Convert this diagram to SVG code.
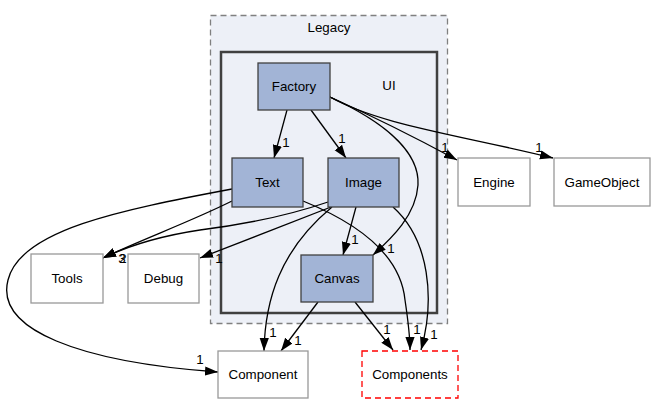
<svg xmlns="http://www.w3.org/2000/svg" width="655" height="404" viewBox="0 0 655 404">
<style>
text{font-family:"Liberation Sans",Arial,sans-serif;font-size:13.33px;fill:#000;text-anchor:middle}
.n{fill:#a2b4d6;stroke:#404040;stroke-width:1.3}
.x{fill:#fff;stroke:#999;stroke-width:1.3}
.e{fill:none;stroke:#000;stroke-width:1.3;marker-end:url(#a)}
</style>
<defs>
<marker id="a" markerUnits="userSpaceOnUse" markerWidth="14" markerHeight="11" refX="13" refY="4.6" orient="auto">
<path d="M0,0 L13,4.6 L0,9.2 Z" fill="#000"/>
</marker>
</defs>
<g id="cluster_Legacy">
<rect x="210.5" y="15.5" width="237" height="308" fill="#edf0f7" stroke="#808080" stroke-width="1.3" stroke-dasharray="6,4"/>
<text x="329" y="32">Legacy</text>
</g>
<g id="cluster_UI">
<rect x="221" y="52" width="216" height="261" fill="#edf0f7" stroke="#404040" stroke-width="2.5"/>
<text x="389" y="90">UI</text>
</g>
<g id="edges">
<path class="e" d="M287,110 L274,158"/>
<text x="286" y="147">1</text>
<path class="e" d="M311,110 L346,158"/>
<text x="342" y="143">1</text>
<path class="e" d="M330,97 C380,120 420,150 418,185 C416,215 392,238 373,255"/>
<text x="391" y="253">1</text>
<path class="e" d="M330,97 C370,115 420,140 457,160"/>
<text x="445" y="152">1</text>
<path class="e" d="M330,97 C380,125 460,135 553,158"/>
<text x="539" y="152">1</text>
<path class="e" d="M232,201 C190,222 140,240 103,258"/>
<text x="122" y="263">3</text>
<text x="123" y="263">2</text>
<path class="e" d="M232,189 C120,210 20,230 8,280 C-5,330 80,362 218,372"/>
<text x="200" y="364">1</text>
<path class="e" d="M303,201 C350,220 400,250 405,300 C408,320 410,335 410,350"/>
<text x="417" y="334">1</text>
<path class="e" d="M328,202 C290,215 240,225 200,230 C160,236 130,245 103,258"/>
<path class="e" d="M331,207 L200,258"/>
<text x="219" y="263">1</text>
<path class="e" d="M356,207 L343,255"/>
<text x="355" y="244">1</text>
<path class="e" d="M332,207 C280,250 265,300 264,351"/>
<text x="273" y="337">1</text>
<path class="e" d="M393,207 C430,240 435,300 421,350"/>
<text x="434" y="339">1</text>
<path class="e" d="M318,302 L281,351"/>
<text x="298" y="345">1</text>
<path class="e" d="M355,302 L393,350"/>
<text x="387" y="334">1</text>
</g>
<g id="node_Factory">
<rect class="n" x="258" y="63" width="72" height="47"/>
<text x="294" y="91">Factory</text>
</g>
<g id="node_Text">
<rect class="n" x="232" y="158" width="71" height="49"/>
<text x="267.5" y="187">Text</text>
</g>
<g id="node_Image">
<rect class="n" x="328" y="158" width="71" height="49"/>
<text x="363.5" y="187">Image</text>
</g>
<g id="node_Canvas">
<rect class="n" x="301" y="255" width="72" height="47"/>
<text x="337" y="283">Canvas</text>
</g>
<g id="node_Tools">
<rect class="x" x="31" y="254" width="72" height="49"/>
<text x="67" y="283">Tools</text>
</g>
<g id="node_Debug">
<rect class="x" x="128" y="254" width="71" height="49"/>
<text x="163.5" y="283">Debug</text>
</g>
<g id="node_Engine">
<rect class="x" x="458" y="158" width="72" height="48"/>
<text x="494" y="187">Engine</text>
</g>
<g id="node_GameObject">
<rect class="x" x="554" y="158" width="96" height="48"/>
<text x="602" y="187">GameObject</text>
</g>
<g id="node_Component">
<rect class="x" x="218" y="351" width="90" height="47"/>
<text x="263" y="379">Component</text>
</g>
<g id="node_Components">
<rect x="362" y="351" width="96" height="47" fill="#fff" stroke="#ff0000" stroke-width="1.3" stroke-dasharray="6,4"/>
<text x="410" y="379">Components</text>
</g>
</svg>
